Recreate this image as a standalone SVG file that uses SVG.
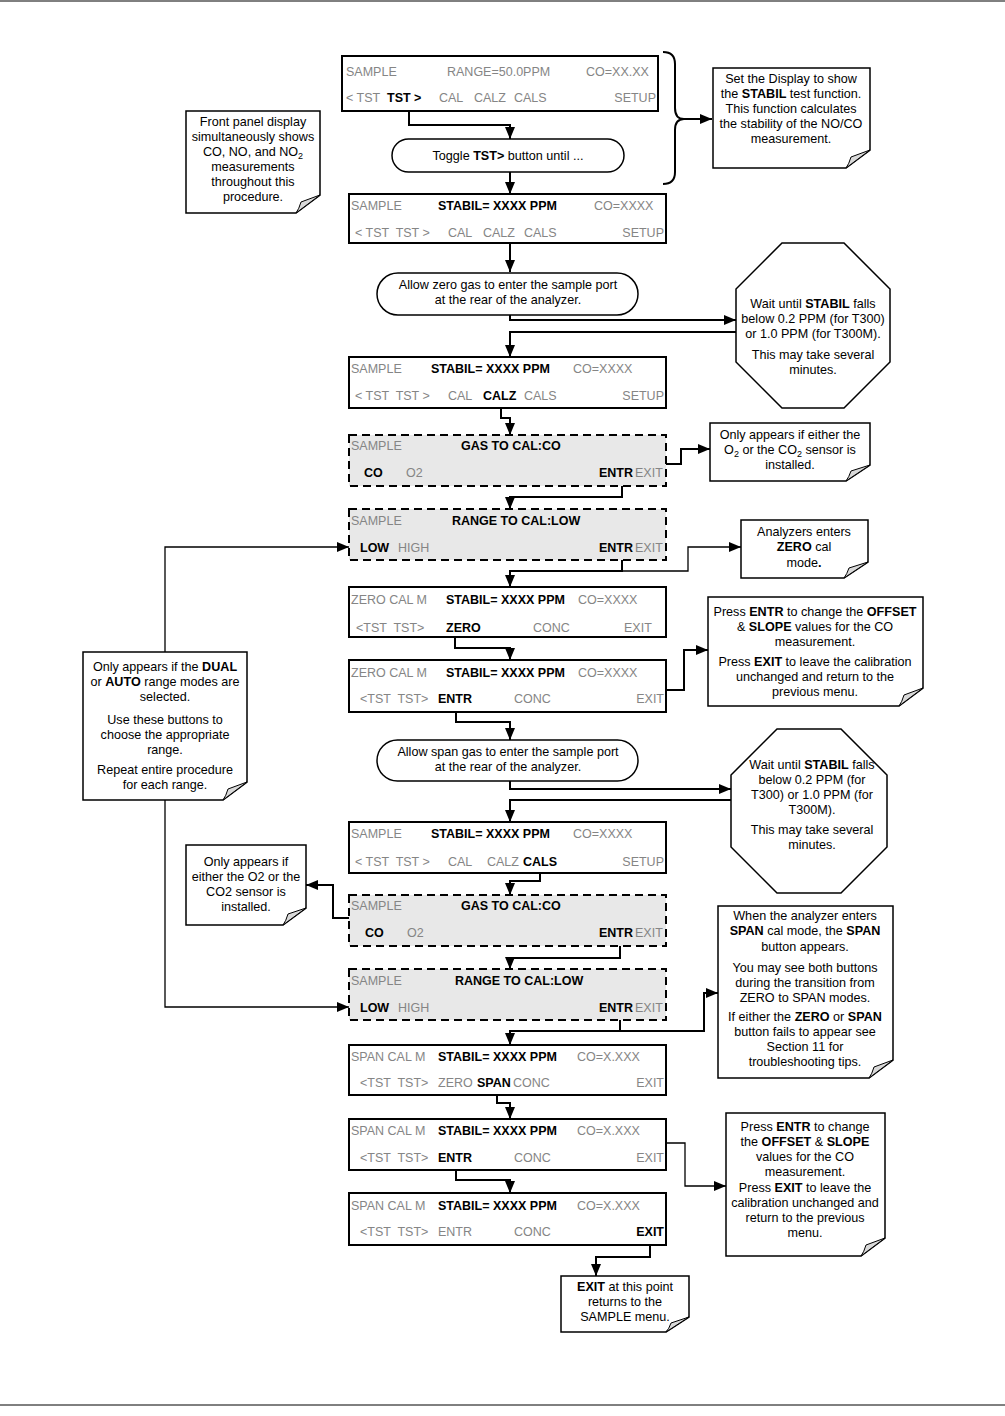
<svg xmlns="http://www.w3.org/2000/svg" width="1005" height="1416" viewBox="0 0 1005 1416">
<style>
text{font-family:"Liberation Sans",Arial,sans-serif;font-size:12.5px;fill:#000;white-space:pre}
.g{fill:#858585}
.b{font-weight:bold;fill:#000}
.n{font-size:12.6px;text-anchor:middle}
.e{text-anchor:end}
.disp{fill:#fff;stroke:#000;stroke-width:2}
.dash{fill:#e8e8e8;stroke:#000;stroke-width:2;stroke-dasharray:8 5}
.note{fill:#fff;stroke:#000;stroke-width:1.5}
.fold{fill:#d9d9d9;stroke:#000;stroke-width:1}
.c{fill:none;stroke:#000;stroke-width:2}
.t{fill:none;stroke:#000;stroke-width:1.3}
.a{marker-end:url(#ah)}
</style>
<defs>
<marker id="ah" viewBox="0 0 12 10" refX="12" refY="5" markerWidth="12" markerHeight="10" markerUnits="userSpaceOnUse" orient="auto"><path d="M0,0 L12,5 L0,10 Z" fill="#000"/></marker>
</defs>
<rect width="1005" height="1416" fill="#fff"/>
<line x1="0" y1="1" x2="1005" y2="1" stroke="#000" stroke-width="1"/>
<line x1="0" y1="1405" x2="1005" y2="1405" stroke="#000" stroke-width="1"/>

<g id="connectors">
<path class="c a" d="M409,111 V125 H510 V139"/>
<path class="c a" d="M510,172 V194"/>
<path class="c" d="M663,52 Q675,52 675,64 V108 Q675,119 684,119 Q675,119 675,130 V172 Q675,184 663,184"/>
<path class="c a" d="M684,119 H712"/>
<path class="c a" d="M510,243 V272"/>
<path class="c a" d="M510,315 V320 H736"/>
<path class="c a" d="M736,332 H510 V357"/>
<path class="c a" d="M501,408 V418 H510 V435"/>
<path class="c a" d="M666,464 H681 V449 H710"/>
<path class="c a" d="M622,486 V497 H510 V509"/>
<path class="c a" d="M622,560 V571 H510 V587"/>
<path class="t a" d="M622,571 H688 V547 H741"/>
<path class="c a" d="M455,637 V648 H510 V660"/>
<path class="c a" d="M666,690 H684 V650 H708"/>
<path class="c a" d="M456,712 V722 H510 V740"/>
<path class="c a" d="M510,780 V789 H731"/>
<path class="c a" d="M731,800 H510 V822"/>
<path class="c a" d="M540,873 V881 H510 V895"/>
<path class="c a" d="M349,918 H333 V885 H306"/>
<path class="c a" d="M620,946 V958 H510 V969"/>
<path class="c a" d="M620,1020 V1031 H510 V1045"/>
<path class="c a" d="M510,1031 H704 V993 H718"/>
<path class="c a" d="M497,1095 V1103 H510 V1119"/>
<path class="t a" d="M666,1143 H685 V1186 H726"/>
<path class="c a" d="M456,1170 V1180 H510 V1193"/>
<path class="c a" d="M650,1245 V1257 H596 V1276"/>
<path class="t a" d="M165,652 V547 H349"/>
<path class="t a" d="M165,800 V1007 H349"/>
</g>

<g id="d1">
<rect class="disp" x="342" y="56" width="316" height="55"/>
<text x="346" y="76" class="g">SAMPLE</text>
<text x="447" y="76" class="g">RANGE=50.0PPM</text>
<text x="586" y="76" class="g">CO=XX.XX</text>
<text x="346" y="102" class="g">&lt; TST</text>
<text x="387" y="102" class="b">TST &gt;</text>
<text x="439" y="102" class="g">CAL</text>
<text x="474" y="102" class="g">CALZ</text>
<text x="514" y="102" class="g">CALS</text>
<text x="656" y="102" class="g e">SETUP</text>
</g>

<g id="p1">
<rect x="392" y="139" width="232" height="33" rx="16.5" fill="#fff" stroke="#000" stroke-width="1.5"/>
<text x="508" y="160" class="n">Toggle <tspan class="b">TST&gt;</tspan> button until ...</text>
</g>

<g id="noteA">
<path class="note" d="M713,68 H870 V150 L846,168 H713 Z"/>
<path class="fold" d="M870,150 L851,157 Q849,164 846,168 Z"/>
<text class="n" x="791" y="83">Set the Display to show</text>
<text class="n" x="791" y="98">the <tspan class="b">STABIL</tspan> test function.</text>
<text class="n" x="791" y="113">This function calculates</text>
<text class="n" x="791" y="128">the stability of the NO/CO</text>
<text class="n" x="791" y="143">measurement.</text>
</g>

<g id="noteB">
<path class="note" d="M186,111 H320 V195 L296,213 H186 Z"/>
<path class="fold" d="M320,195 L301,202 Q299,209 296,213 Z"/>
<text class="n" x="253" y="126">Front panel display</text>
<text class="n" x="253" y="141">simultaneously shows</text>
<text class="n" x="253" y="156">CO, NO, and NO<tspan font-size="9" dy="3">2</tspan></text>
<text class="n" x="253" y="171">measurements</text>
<text class="n" x="253" y="186">throughout this</text>
<text class="n" x="253" y="201">procedure.</text>
</g>

<g id="d2">
<rect class="disp" x="349" y="194" width="317" height="49"/>
<text x="351" y="210" class="g">SAMPLE</text>
<text x="438" y="210" class="b">STABIL= XXXX PPM</text>
<text x="594" y="210" class="g">CO=XXXX</text>
<text x="355" y="237" class="g">&lt; TST  TST &gt;</text>
<text x="448" y="237" class="g">CAL</text>
<text x="483" y="237" class="g">CALZ</text>
<text x="524" y="237" class="g">CALS</text>
<text x="664" y="237" class="g e">SETUP</text>
</g>

<g id="p2">
<rect x="377" y="273" width="261" height="42" rx="21" fill="#fff" stroke="#000" stroke-width="1.5"/>
<text x="508" y="289" class="n">Allow zero gas to enter the sample port</text>
<text x="508" y="304" class="n">at the rear of the analyzer.</text>
</g>

<g id="oct1">
<polygon points="782,243 844,243 890,289 890,362 844,408 782,408 736,362 736,289" fill="#fff" stroke="#000" stroke-width="1.5"/>
<text class="n" x="813" y="308">Wait until <tspan class="b">STABIL</tspan> falls</text>
<text class="n" x="813" y="323">below 0.2 PPM (for T300)</text>
<text class="n" x="813" y="338">or 1.0 PPM (for T300M).</text>
<text class="n" x="813" y="359">This may take several</text>
<text class="n" x="813" y="374">minutes.</text>
</g>

<g id="d3">
<rect class="disp" x="349" y="357" width="317" height="51"/>
<text x="351" y="373" class="g">SAMPLE</text>
<text x="431" y="373" class="b">STABIL= XXXX PPM</text>
<text x="573" y="373" class="g">CO=XXXX</text>
<text x="355" y="400" class="g">&lt; TST  TST &gt;</text>
<text x="448" y="400" class="g">CAL</text>
<text x="483" y="400" class="b">CALZ</text>
<text x="524" y="400" class="g">CALS</text>
<text x="664" y="400" class="g e">SETUP</text>
</g>

<g id="d4">
<rect class="dash" x="349" y="435" width="317" height="51"/>
<text x="351" y="450" class="g">SAMPLE</text>
<text x="461" y="450" class="b">GAS TO CAL:CO</text>
<text x="364" y="477" class="b">CO</text>
<text x="406" y="477" class="g">O2</text>
<text x="599" y="477" class="b">ENTR</text>
<text x="635" y="477" class="g">EXIT</text>
</g>

<g id="noteC">
<path class="note" d="M710,423 H870 V465 L846,481 H710 Z"/>
<path class="fold" d="M870,465 L851,471 Q849,477 846,481 Z"/>
<text class="n" x="790" y="439">Only appears if either the</text>
<text class="n" x="790" y="454">O<tspan font-size="9" dy="3">2</tspan><tspan dy="-3"> or the CO</tspan><tspan font-size="9" dy="3">2</tspan><tspan dy="-3"> sensor is</tspan></text>
<text class="n" x="790" y="469">installed.</text>
</g>

<g id="d5">
<rect class="dash" x="349" y="509" width="317" height="51"/>
<text x="351" y="525" class="g">SAMPLE</text>
<text x="452" y="525" class="b">RANGE TO CAL:LOW</text>
<text x="360" y="552" class="b">LOW</text>
<text x="398" y="552" class="g">HIGH</text>
<text x="599" y="552" class="b">ENTR</text>
<text x="635" y="552" class="g">EXIT</text>
</g>

<g id="noteD">
<path class="note" d="M741,520 H868 V562 L844,578 H741 Z"/>
<path class="fold" d="M868,562 L849,568 Q847,574 844,578 Z"/>
<text class="n" x="804" y="536">Analyzers enters</text>
<text class="n" x="804" y="551"><tspan class="b">ZERO</tspan> cal</text>
<text class="n" x="804" y="567">mode<tspan class="b">.</tspan></text>
</g>

<g id="d6">
<rect class="disp" x="349" y="587" width="317" height="50"/>
<text x="351" y="604" class="g">ZERO CAL M</text>
<text x="446" y="604" class="b">STABIL= XXXX PPM</text>
<text x="578" y="604" class="g">CO=XXXX</text>
<text x="356" y="632" class="g">&lt;TST  TST&gt;</text>
<text x="446" y="632" class="b">ZERO</text>
<text x="533" y="632" class="g">CONC</text>
<text x="624" y="632" class="g">EXIT</text>
</g>

<g id="d7">
<rect class="disp" x="349" y="660" width="317" height="52"/>
<text x="351" y="677" class="g">ZERO CAL M</text>
<text x="446" y="677" class="b">STABIL= XXXX PPM</text>
<text x="578" y="677" class="g">CO=XXXX</text>
<text x="360" y="703" class="g">&lt;TST  TST&gt;</text>
<text x="438" y="703" class="b">ENTR</text>
<text x="514" y="703" class="g">CONC</text>
<text x="664" y="703" class="g e">EXIT</text>
</g>

<g id="noteE">
<path class="note" d="M708,597 H923 V688 L899,706 H708 Z"/>
<path class="fold" d="M923,688 L904,695 Q902,702 899,706 Z"/>
<text class="n" x="815" y="616">Press <tspan class="b">ENTR</tspan> to change the <tspan class="b">OFFSET</tspan></text>
<text class="n" x="815" y="631">&amp; <tspan class="b">SLOPE</tspan> values for the CO</text>
<text class="n" x="815" y="646">measurement.</text>
<text class="n" x="815" y="666">Press <tspan class="b">EXIT</tspan> to leave the calibration</text>
<text class="n" x="815" y="681">unchanged and return to the</text>
<text class="n" x="815" y="696">previous menu.</text>
</g>

<g id="noteF">
<path class="note" d="M83,652 H247 V782 L223,800 H83 Z"/>
<path class="fold" d="M247,782 L228,789 Q226,796 223,800 Z"/>
<text class="n" x="165" y="671">Only appears if the <tspan class="b">DUAL</tspan></text>
<text class="n" x="165" y="686">or <tspan class="b">AUTO</tspan> range modes are</text>
<text class="n" x="165" y="701">selected.</text>
<text class="n" x="165" y="724">Use these buttons to</text>
<text class="n" x="165" y="739">choose the appropriate</text>
<text class="n" x="165" y="754">range.</text>
<text class="n" x="165" y="774">Repeat entire procedure</text>
<text class="n" x="165" y="789">for each range.</text>
</g>

<g id="p3">
<rect x="377" y="740" width="261" height="41" rx="20.5" fill="#fff" stroke="#000" stroke-width="1.5"/>
<text x="508" y="756" class="n">Allow span gas to enter the sample port</text>
<text x="508" y="771" class="n">at the rear of the analyzer.</text>
</g>

<g id="oct2">
<polygon points="777,729 841,729 887,775 887,847 841,893 777,893 731,847 731,775" fill="#fff" stroke="#000" stroke-width="1.5"/>
<text class="n" x="812" y="769">Wait until <tspan class="b">STABIL</tspan> falls</text>
<text class="n" x="812" y="784">below 0.2 PPM (for</text>
<text class="n" x="812" y="799">T300) or 1.0 PPM (for</text>
<text class="n" x="812" y="814">T300M).</text>
<text class="n" x="812" y="834">This may take several</text>
<text class="n" x="812" y="849">minutes.</text>
</g>

<g id="d8">
<rect class="disp" x="349" y="822" width="317" height="51"/>
<text x="351" y="838" class="g">SAMPLE</text>
<text x="431" y="838" class="b">STABIL= XXXX PPM</text>
<text x="573" y="838" class="g">CO=XXXX</text>
<text x="355" y="866" class="g">&lt; TST  TST &gt;</text>
<text x="448" y="866" class="g">CAL</text>
<text x="487" y="866" class="g">CALZ</text>
<text x="523" y="866" class="b">CALS</text>
<text x="664" y="866" class="g e">SETUP</text>
</g>

<g id="noteG">
<path class="note" d="M186,845 H306 V908 L283,925 H186 Z"/>
<path class="fold" d="M306,908 L288,914 Q286,921 283,925 Z"/>
<text class="n" x="246" y="866">Only appears if</text>
<text class="n" x="246" y="881">either the O2 or the</text>
<text class="n" x="246" y="896">CO2 sensor is</text>
<text class="n" x="246" y="911">installed.</text>
</g>

<g id="d9">
<rect class="dash" x="349" y="895" width="317" height="51"/>
<text x="351" y="910" class="g">SAMPLE</text>
<text x="461" y="910" class="b">GAS TO CAL:CO</text>
<text x="365" y="937" class="b">CO</text>
<text x="407" y="937" class="g">O2</text>
<text x="599" y="937" class="b">ENTR</text>
<text x="635" y="937" class="g">EXIT</text>
</g>

<g id="d10">
<rect class="dash" x="349" y="969" width="317" height="51"/>
<text x="351" y="985" class="g">SAMPLE</text>
<text x="455" y="985" class="b">RANGE TO CAL:LOW</text>
<text x="360" y="1012" class="b">LOW</text>
<text x="398" y="1012" class="g">HIGH</text>
<text x="599" y="1012" class="b">ENTR</text>
<text x="635" y="1012" class="g">EXIT</text>
</g>

<g id="noteH">
<path class="note" d="M718,906 H893 V1060 L869,1078 H718 Z"/>
<path class="fold" d="M893,1060 L874,1067 Q872,1074 869,1078 Z"/>
<text class="n" x="805" y="920">When the analyzer enters</text>
<text class="n" x="805" y="935"><tspan class="b">SPAN</tspan> cal mode, the <tspan class="b">SPAN</tspan></text>
<text class="n" x="805" y="951">button appears.</text>
<text class="n" x="805" y="972">You may see both buttons</text>
<text class="n" x="805" y="987">during the transition from</text>
<text class="n" x="805" y="1002">ZERO to SPAN modes.</text>
<text class="n" x="805" y="1021">If either the <tspan class="b">ZERO</tspan> or <tspan class="b">SPAN</tspan></text>
<text class="n" x="805" y="1036">button fails to appear see</text>
<text class="n" x="805" y="1051">Section 11 for</text>
<text class="n" x="805" y="1066">troubleshooting tips.</text>
</g>

<g id="d11">
<rect class="disp" x="349" y="1045" width="317" height="50"/>
<text x="351" y="1061" class="g">SPAN CAL M</text>
<text x="438" y="1061" class="b">STABIL= XXXX PPM</text>
<text x="577" y="1061" class="g">CO=X.XXX</text>
<text x="360" y="1087" class="g">&lt;TST  TST&gt;</text>
<text x="438" y="1087" class="g">ZERO</text>
<text x="477" y="1087" class="b">SPAN</text>
<text x="513" y="1087" class="g">CONC</text>
<text x="664" y="1087" class="g e">EXIT</text>
</g>

<g id="d12">
<rect class="disp" x="349" y="1119" width="317" height="51"/>
<text x="351" y="1135" class="g">SPAN CAL M</text>
<text x="438" y="1135" class="b">STABIL= XXXX PPM</text>
<text x="577" y="1135" class="g">CO=X.XXX</text>
<text x="360" y="1162" class="g">&lt;TST  TST&gt;</text>
<text x="438" y="1162" class="b">ENTR</text>
<text x="514" y="1162" class="g">CONC</text>
<text x="664" y="1162" class="g e">EXIT</text>
</g>

<g id="d13">
<rect class="disp" x="349" y="1193" width="317" height="52"/>
<text x="351" y="1210" class="g">SPAN CAL M</text>
<text x="438" y="1210" class="b">STABIL= XXXX PPM</text>
<text x="577" y="1210" class="g">CO=X.XXX</text>
<text x="360" y="1236" class="g">&lt;TST  TST&gt;</text>
<text x="438" y="1236" class="g">ENTR</text>
<text x="514" y="1236" class="g">CONC</text>
<text x="664" y="1236" class="b e">EXIT</text>
</g>

<g id="noteI">
<path class="note" d="M726,1113 H885 V1238 L861,1256 H726 Z"/>
<path class="fold" d="M885,1238 L866,1245 Q864,1252 861,1256 Z"/>
<text class="n" x="805" y="1131">Press <tspan class="b">ENTR</tspan> to change</text>
<text class="n" x="805" y="1146">the <tspan class="b">OFFSET</tspan> &amp; <tspan class="b">SLOPE</tspan></text>
<text class="n" x="805" y="1161">values for the CO</text>
<text class="n" x="805" y="1176">measurement.</text>
<text class="n" x="805" y="1192">Press <tspan class="b">EXIT</tspan> to leave the</text>
<text class="n" x="805" y="1207">calibration unchanged and</text>
<text class="n" x="805" y="1222">return to the previous</text>
<text class="n" x="805" y="1237">menu.</text>
</g>

<g id="noteJ">
<path class="note" d="M561,1276 H689 V1317 L666,1332 H561 Z"/>
<path class="fold" d="M689,1317 L671,1323 Q669,1329 666,1332 Z"/>
<text class="n" x="625" y="1291"><tspan class="b">EXIT</tspan> at this point</text>
<text class="n" x="625" y="1306">returns to the</text>
<text class="n" x="625" y="1321">SAMPLE menu.</text>
</g>
</svg>
